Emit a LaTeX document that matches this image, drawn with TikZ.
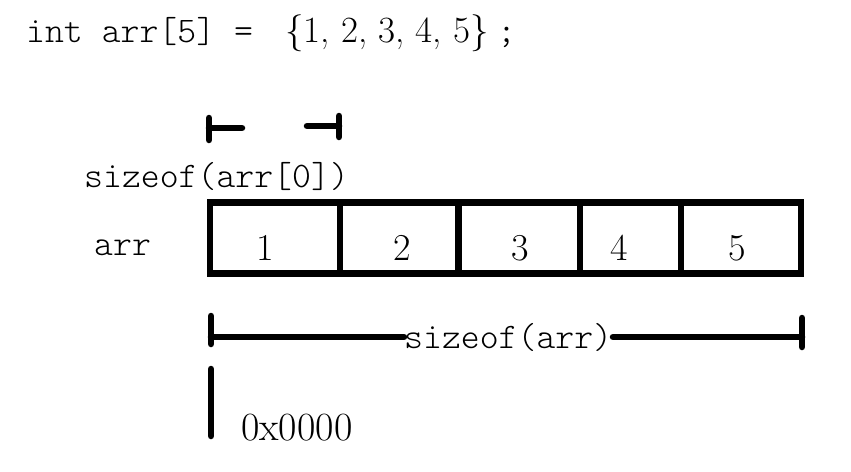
\documentclass[tikz,border=0pt]{standalone}
\usepackage{fontspec}
\setmonofont{Latin Modern Mono Light}
\begin{document}
\begin{tikzpicture}[x=1pt,y=-1pt,
  bar/.style={line width=6.5pt,line cap=round},
  cell/.style={line width=6.8pt},
  code/.style={inner sep=0pt,anchor=base west,font=\fontsize{36}{40}\selectfont\ttfamily},
  num/.style={inner sep=0pt,anchor=base,font=\fontsize{38}{40}\selectfont},
  lbl/.style={inner sep=0pt,anchor=base west,font=\fontsize{40}{42}\selectfont}]
\useasboundingbox[fill=white] (0,0) rectangle (851,471);
% declaration
\node[code] (decl) at (26,42) {int arr[5] =};
\node[inner sep=0pt,anchor=base west,font=\fontsize{37}{40}\selectfont] (vals) at (285,42) {\{1, 2, 3, 4, 5\}};
\node[code] (semi) at (497,42) {;};
% element size marker
\coordinate (e1t) at (209,118); \coordinate (e1b) at (209,140);
\coordinate (e1m) at (209,128); \coordinate (e1r) at (242,128);
\coordinate (e2t) at (339,116); \coordinate (e2b) at (339,137);
\coordinate (e2m) at (339,126); \coordinate (e2l) at (307,126);
\draw[bar] (e1t) -- (e1b); \draw[bar] (e1m) -- (e1r);
\draw[bar] (e2t) -- (e2b); \draw[bar] (e2m) -- (e2l);
\node[code] (selem) at (84,187) {sizeof(arr[0])};
% array
\node[code] (arrlbl) at (94,255) {arr};
\draw[cell] (210,202.5) rectangle (801,273.5);
\draw[cell] (340,202.5) -- (340,273.5);
\draw[cell] (458.5,202.5) -- (458.5,273.5);
\draw[cell] (580,202.5) -- (580,273.5);
\draw[cell] (681,202.5) -- (681,273.5);
\node[num] (v1) at (265,260) {1};
\node[num] (v2) at (402,260) {2};
\node[num] (v3) at (520,260) {3};
\node[num] (v4) at (619,260) {4};
\node[num] (v5) at (737,260) {5};
% total size marker
\node[code] (sarr) at (404,348) {sizeof(arr)};
\coordinate (a1t) at (211,316); \coordinate (a1b) at (211,344); \coordinate (a1m) at (211,337);
\coordinate (a2t) at (802,318); \coordinate (a2b) at (802,347); \coordinate (a2m) at (802,337);
\coordinate (sl) at (404,337); \coordinate (sr) at (613,337);
\draw[bar] (a1t) -- (a1b);
\draw[bar] (a2t) -- (a2b);
\draw[bar] (a1m) -- (sl);
\draw[bar] (sr) -- (a2m);
% address
\coordinate (adt) at (211,369); \coordinate (adb) at (211,436);
\draw[bar] (adt) -- (adb);
\node[lbl] (addr) at (241,440) {0x0000};
\end{tikzpicture}
\end{document}
